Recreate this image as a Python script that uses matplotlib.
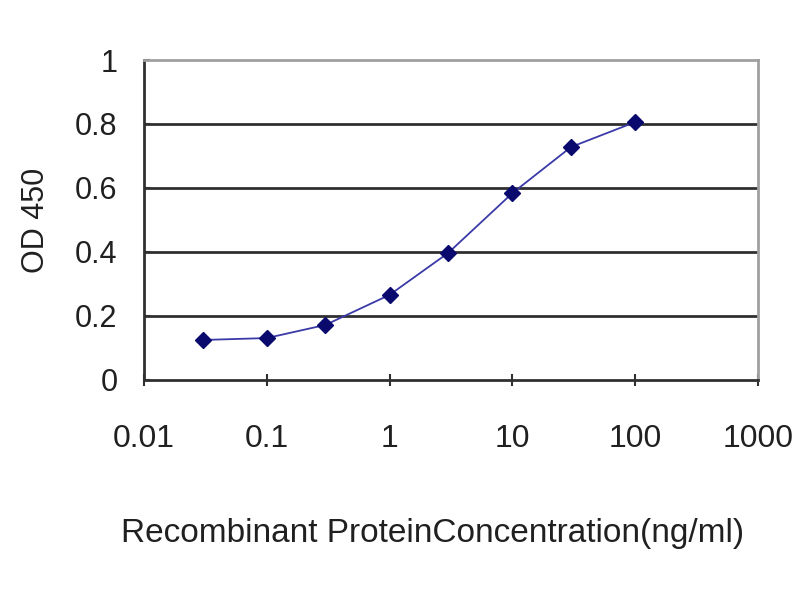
import matplotlib
matplotlib.use("Agg")
import matplotlib.pyplot as plt
from matplotlib.ticker import FixedLocator, NullLocator

plt.rcParams['font.family'] = ['Liberation Sans', 'DejaVu Sans']

conc = [0.03, 0.1, 0.3, 1, 3, 10, 30, 100]
od = [0.125, 0.131, 0.172, 0.266, 0.397, 0.584, 0.728, 0.806]
xticks = [0.01, 0.1, 1, 10, 100, 1000]
xtick_labels = ['0.01', '0.1', '1', '10', '100', '1000']
yticks = [0, 0.2, 0.4, 0.6, 0.8, 1]
ytick_labels = ['0', '0.2', '0.4', '0.6', '0.8', '1']

fig = plt.figure(figsize=(8, 6), dpi=100)
ax = fig.add_axes([0.18, 0.3667, 0.7675, 0.5333])

ax.set_xscale('log')
ax.set_xlim(0.01, 1000)
ax.set_ylim(0, 1)

for y in yticks[1:-1]:
    ax.axhline(y, color='#303030', lw=2, zorder=1)

ax.plot(conc, od, color='#3a3aa8', lw=1.3, zorder=3)
ax.plot(conc, od, linestyle='none', marker='D', ms=8, color='#0a0a6e', zorder=4)

ax.xaxis.set_major_locator(FixedLocator(xticks))
ax.xaxis.set_minor_locator(NullLocator())
ax.set_xticklabels(xtick_labels)
ax.set_yticks(yticks)
ax.set_yticklabels(ytick_labels)

ax.tick_params(axis='x', direction='inout', length=8, width=1.5, color='#303030',
               labelsize=23, pad=28, labelcolor='#202020')
ax.tick_params(axis='y', direction='in', length=4, width=1.5, color='#303030',
               labelsize=22, pad=19, labelcolor='#202020')

for s in ['left', 'bottom']:
    ax.spines[s].set_color('#303030')
    ax.spines[s].set_linewidth(2)
for s in ['top', 'right']:
    ax.spines[s].set_color('#a0a0a0')
    ax.spines[s].set_linewidth(2)

ax.set_xlabel('Recombinant ProteinConcentration(ng/ml)', fontsize=24,
              color='#202020', labelpad=46)
ax.xaxis.label.set_x(0.47)
ax.set_ylabel('OD 450', fontsize=22, color='#202020', labelpad=17)

fig.savefig('out.png', dpi=100, facecolor='white')
